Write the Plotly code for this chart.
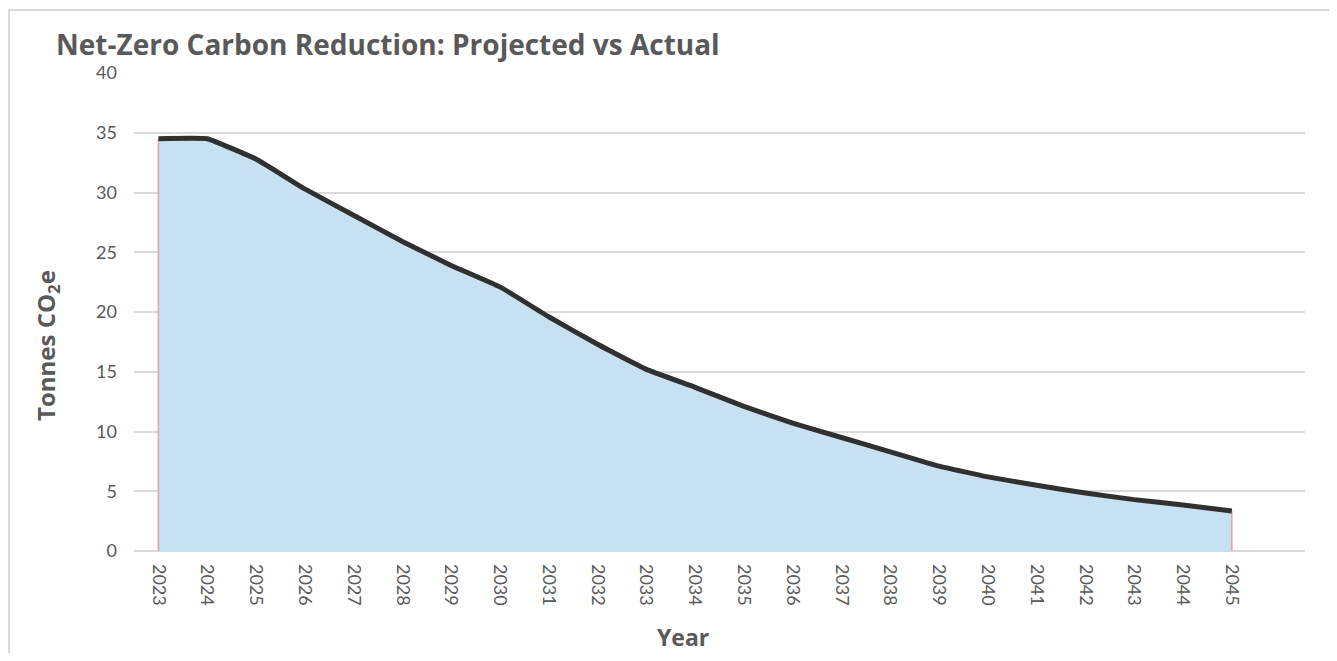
import plotly.graph_objects as go

years = list(range(2023, 2046))
projected = [34.5, 34.5, 32.8, 30.3, 28.1, 25.9, 23.9, 22.1, 19.6, 17.3, 15.2, 13.7,
             12.1, 10.7, 9.5, 8.3, 7.1, 6.2, 5.5, 4.85, 4.3, 3.85, 3.35]
y_ticks = list(range(0, 45, 5))

title_text = "Net-Zero Carbon Reduction: Projected vs Actual"
x_title = "Year"
y_title = "Tonnes CO<sub>2</sub>e"

OFF = 8  # page body margin
W, H = 1337 - 2 * OFF, 661 - 2 * OFF
L, T = 134 - OFF, 73 - OFF
R = W - (1305 - OFF)
B = H - (551 - OFF)
pw = W - L - R
ph = H - T - B


def px(xr):
    return (xr - OFF - L) / pw


def py(yr):
    return (H - B - (yr - OFF)) / ph


fig = go.Figure()

fig.add_trace(go.Scatter(
    x=years, y=projected, mode="lines", fill="tozeroy",
    fillcolor="#C5E1F2", line=dict(width=0, color="rgba(0,0,0,0)", shape="spline", smoothing=0.3),
    hoverinfo="skip", showlegend=False))

fig.add_trace(go.Scatter(
    x=[years[0], years[0], None, years[-1], years[-1]],
    y=[0, projected[0], None, 0, projected[-1]],
    mode="lines", line=dict(color="#E8A0A8", width=1.5),
    hoverinfo="skip", showlegend=False))

fig.add_trace(go.Scatter(
    x=years, y=projected, mode="lines",
    line=dict(color="#303030", width=5, shape="spline", smoothing=0.3),
    showlegend=False))

fig.update_layout(
    width=W, height=H,
    margin=dict(l=L, r=R, t=T, b=B),
    paper_bgcolor="white", plot_bgcolor="white",
    xaxis=dict(
        range=[2022.5, 2046.5], tickmode="array", tickvals=years,
        ticktext=[str(y) for y in years], tickangle=90,
        showgrid=False, zeroline=False, showline=False,
        ticks="", tickfont=dict(family="Lato, sans-serif", size=18, color="#595959"),
        ticklabelstandoff=12),
    yaxis=dict(
        range=[0, 40], tickmode="array", tickvals=y_ticks,
        showgrid=True, gridcolor="#D9D9D9", gridwidth=1.5,
        zeroline=True, zerolinecolor="#D9D9D9", zerolinewidth=2,
        showline=False, ticks="", tickfont=dict(family="Lato, sans-serif", size=18, color="#595959"),
        ticklabelstandoff=16),
    annotations=[
        dict(text=title_text, xref="paper", yref="paper",
             x=px(54), y=py(44), xanchor="left", yanchor="middle",
             showarrow=False, font=dict(family="Open Sans, sans-serif", size=28, color="#595959", weight=700)),
        dict(text=x_title, xref="paper", yref="paper",
             x=px(683), y=py(637), xanchor="center", yanchor="middle",
             showarrow=False, font=dict(family="Open Sans, sans-serif", size=23, color="#595959", weight=700)),
        dict(text=y_title, xref="paper", yref="paper", textangle=-90,
             x=px(47), y=py(346), xanchor="center", yanchor="middle",
             showarrow=False, font=dict(family="Open Sans, sans-serif", size=24, color="#595959", weight=700)),
    ],
    shapes=[
        dict(type="rect", xref="paper", yref="paper",
             x0=px(9), x1=px(1330),
             y0=py(700), y1=py(10),
             line=dict(color="#D9D9D9", width=2), fillcolor="rgba(0,0,0,0)", layer="below"),
    ],
)

fig.write_html("out.html")
